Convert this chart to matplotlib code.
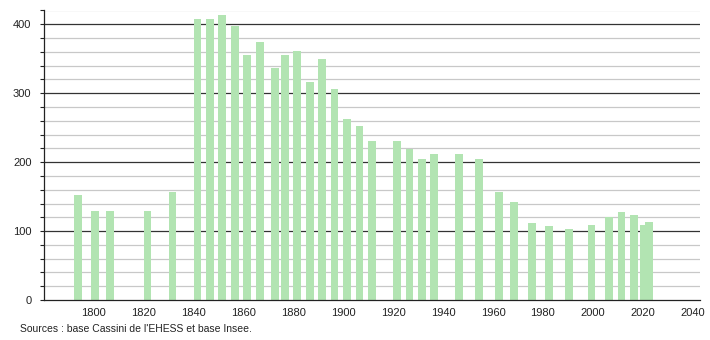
"""Population chart (census years), bars on a light grid, Wikipedia style."""
import matplotlib
matplotlib.use("Agg")
import matplotlib.pyplot as plt
from matplotlib.ticker import MultipleLocator

years = [1793, 1800, 1806, 1821, 1831, 1841, 1846, 1851, 1856, 1861, 1866,
         1872, 1876, 1881, 1886, 1891, 1896, 1901, 1906, 1911, 1921, 1926,
         1931, 1936, 1946, 1954, 1962, 1968, 1975, 1982, 1990, 1999, 2006,
         2011, 2016, 2020, 2022]
population = [152, 129, 129, 129, 157, 407, 407, 413, 397, 355, 374,
              336, 355, 361, 316, 349, 306, 262, 252, 230, 230, 219,
              205, 212, 212, 204, 156, 142, 111, 107, 103, 109, 121,
              128, 123, 109, 113]
x_ticks = list(range(1800, 2041, 20))
source_note = "Sources : base Cassini de l'EHESS et base Insee."

BAR = "#b2e4b2"
MAJOR = "#333333"
MINOR = "#c8c8c8"
TEXT = "#222222"

plt.rcParams["font.family"] = ["Liberation Sans", "DejaVu Sans"]

fig = plt.figure(figsize=(7.1, 3.4), dpi=100)
ax = fig.add_axes([44 / 710, 1 - 300 / 340, 656 / 710, 289.5 / 340])

ax.set_xlim(1780, 2043)
ax.set_ylim(0, 420)

# grid: light every 20, dark every 100, both behind the bars
for v in range(20, 421, 20):
    if v % 100:
        ax.axhline(v, color=MINOR, lw=0.9, zorder=0)
for v in range(100, 401, 100):
    ax.axhline(v, color=MAJOR, lw=0.9, zorder=1)

ax.bar([y + 0.5 for y in years], population, width=3.1, color=BAR, zorder=2)

for s in ["top", "right"]:
    ax.spines[s].set_visible(False)
for s in ["left", "bottom"]:
    ax.spines[s].set_color("#222222")
    ax.spines[s].set_linewidth(0.9)

ax.yaxis.set_major_locator(MultipleLocator(100))
ax.yaxis.set_minor_locator(MultipleLocator(20))
ax.tick_params(axis="y", which="both", length=3, width=0.8, color="#222222",
               labelsize=8, labelcolor=TEXT, pad=6)
ax.set_xticks(x_ticks)
ax.tick_params(axis="x", length=0, labelsize=8, labelcolor=TEXT, pad=6)

fig.text(20 / 710, 1 - 329 / 340, source_note, fontsize=7.5, color=TEXT,
         va="center", ha="left")

fig.savefig("out.png", dpi=100, facecolor="white")
